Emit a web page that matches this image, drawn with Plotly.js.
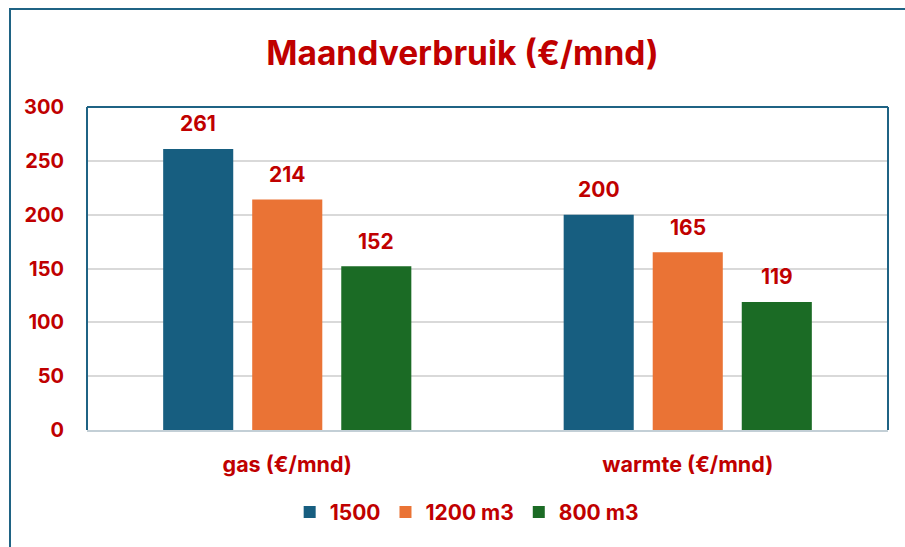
<!DOCTYPE html>
<html>
<head>
<meta charset="utf-8">
<script src="https://cdn.plot.ly/plotly-3.0.1.min.js"></script>
<style>
html,body{margin:0;padding:0;background:#fff;overflow:hidden;}
#wrap{position:relative;width:905px;height:547px;}
#chart{position:absolute;left:0;top:0;width:905px;height:547px;}
#frame{position:absolute;left:9px;top:8px;width:920px;height:560px;border:2px solid #1f6384;pointer-events:none;box-sizing:border-box;}
</style>
</head>
<body>
<div id="wrap"><div id="chart"></div><div id="frame"></div></div>
<script>
const categories = ["gas (€/mnd)", "warmte (€/mnd)"];
const seriesNames = ["1500", "1200 m3", "800 m3"];
const s1500 = [261, 200];
const s1200 = [214, 165];
const s800 = [152, 119];
const yTicks = [0, 50, 100, 150, 200, 250, 300];

const colors = ["#175e80", "#ea7335", "#1b6b25"];
const red = "#c00000";
const font = "Inter, 'Open Sans', sans-serif";
const allSeries = [s1500, s1200, s800];

const traces = allSeries.map((vals, i) => ({
  type: "bar",
  name: seriesNames[i],
  x: categories,
  y: vals,
  marker: {color: colors[i], line: {width: 0}},
  hoverinfo: "skip"
}));

const shifts = [-89, 0, 89];
const annotations = [];
allSeries.forEach((vals, i) => {
  vals.forEach((v, k) => {
    annotations.push({
      x: categories[k], y: v, xref: "x", yref: "y",
      text: String(v), showarrow: false,
      xshift: shifts[i], yshift: 25, yanchor: "middle",
      font: {family: font, size: 21, color: red, weight: 700}
    });
  });
});

const layout = {
  width: 905, height: 547,
  margin: {l: 87, r: 17, t: 107, b: 117},
  paper_bgcolor: "#ffffff", plot_bgcolor: "#ffffff",
  title: {text: "Maandverbruik (€/mnd)", x: 0.511, xanchor: "center", y: 0.903, yanchor: "middle",
          font: {family: font, size: 33.5, color: red, weight: 700}},
  barmode: "group", bargap: 0.333, bargroupgap: 0.213,
  showlegend: true,
  legend: {orientation: "h", x: 0.474, xanchor: "center", y: -0.255, yanchor: "middle",
           font: {family: font, size: 21, color: red, weight: 700}, itemwidth: 30, traceorder: "normal"},
  xaxis: {type: "category", showgrid: false, showline: true, linecolor: "#c3cfd6", linewidth: 2,
          ticks: "", ticklabelstandoff: 14,
          tickfont: {family: font, size: 21.5, color: red, weight: 700}},
  yaxis: {range: [0, 300], tickvals: yTicks, ticktext: yTicks.map(String), showgrid: true, gridcolor: "#d9d9d9", gridwidth: 2,
          zeroline: false, showline: false, ticks: "", ticklabelstandoff: 22,
          tickfont: {family: font, size: 20, color: red, weight: 700}},
  shapes: [
    {type: "line", xref: "paper", yref: "paper", x0: 0, x1: 0, y0: 0, y1: 1, line: {color: "#1f6384", width: 2}},
    {type: "line", xref: "paper", yref: "paper", x0: 0, x1: 1, y0: 1, y1: 1, line: {color: "#1f6384", width: 2}},
    {type: "line", xref: "paper", yref: "paper", x0: 1, x1: 1, y0: 0, y1: 1, line: {color: "#1f6384", width: 2}}
  ],
  annotations: annotations
};

Plotly.newPlot("chart", traces, layout, {displayModeBar: false, staticPlot: true});
</script>
</body>
</html>
